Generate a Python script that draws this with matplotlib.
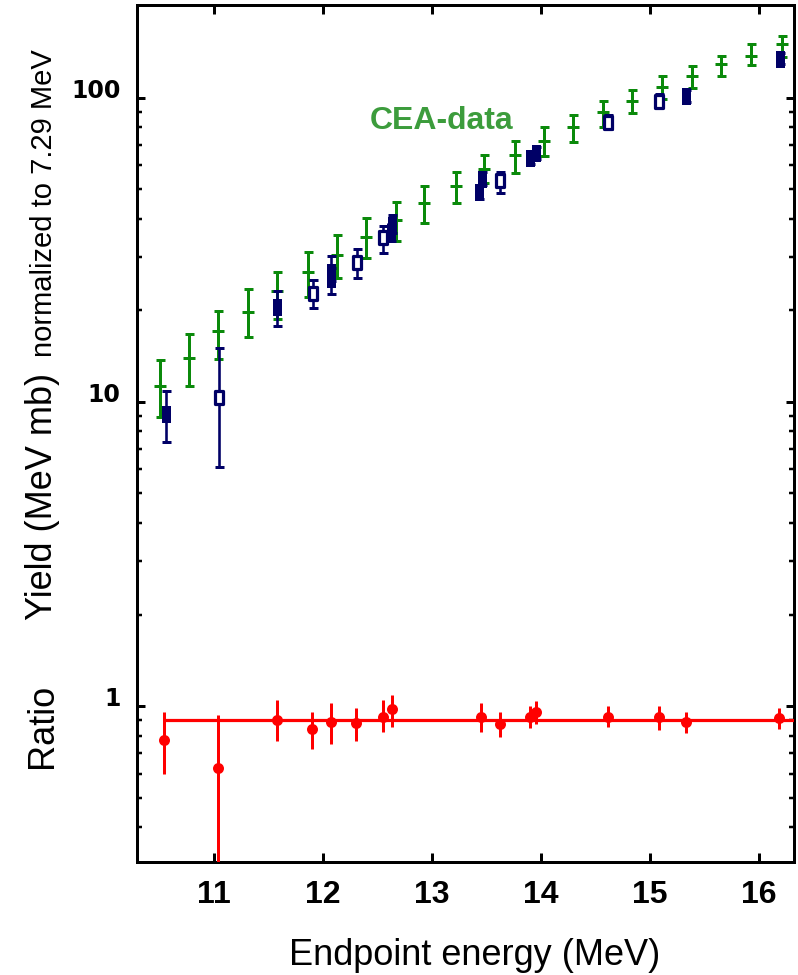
import matplotlib
matplotlib.use("Agg")
import matplotlib.pyplot as plt
import numpy as np
from matplotlib.path import Path
from matplotlib.ticker import FixedLocator, FixedFormatter, NullFormatter

# ---------------- data ----------------
# CEA reference yields (green)
cea_energy = [10.505, 10.768, 11.034, 11.315, 11.575, 11.865, 12.126, 12.394, 12.67, 12.927,
              13.22, 13.48, 13.764, 14.028, 14.296, 14.572, 14.835, 15.113, 15.388, 15.651,
              15.927, 16.208]
cea_yield = [11.3, 14.0, 17.1, 19.8, 23.2, 26.8, 30.4, 34.8, 39.7, 45.0,
             51.3, 58.2, 64.9, 72.2, 79.9, 89.7, 97.8, 108.4, 118.1, 129.1,
             137.4, 150.2]
cea_low = [8.95, 11.3, 13.8, 16.3, 18.8, 22.1, 25.6, 29.8, 33.9, 38.7,
           45.0, 52.5, 56.8, 64.6, 71.8, 80.5, 89.5, 99.5, 107.6, 118.1,
           128.4, 136.7]
cea_high = [13.7, 16.7, 19.9, 23.5, 26.7, 31.1, 35.4, 40.4, 45.3, 51.3,
            56.9, 64.9, 72.2, 80.3, 87.9, 98.0, 106.2, 118.1, 126.8, 137.4,
            150.5, 160.0]

# present yields, filled symbols
filled_energy = [10.56, 11.578, 12.07, 12.07, 12.62, 12.63, 13.43, 13.455, 13.896, 13.951, 15.33, 16.193]
filled_yield = [9.13, 20.5, 25.3, 26.7, 36.1, 38.1, 49.1, 54.1, 63.5, 65.9, 101.5, 134.3]
filled_low = [7.37, 17.8, 22.7, 25.0, 33.9, 36.0, 46.5, 51.5, 60.5, 63.0, 97.0, 129.0]
filled_high = [10.87, 23.2, 27.5, 30.1, 38.5, 41.2, 51.5, 57.0, 66.0, 69.0, 106.0, 140.0]

# present yields, open symbols
open_energy = [11.043, 11.905, 12.309, 12.553, 13.624, 14.612, 15.083]
open_yield = [10.41, 22.8, 28.8, 34.8, 53.7, 83.6, 97.8]
open_low = [6.1, 20.3, 25.6, 31.0, 48.8, 79.0, 93.0]
open_high = [15.1, 25.2, 31.8, 37.9, 57.0, 88.0, 103.0]

# ratio present / CEA
ratio_energy = [10.544, 11.04, 11.575, 11.902, 12.07, 12.303, 12.553, 12.63, 13.447, 13.624,
                13.90, 13.957, 14.612, 15.08, 15.328, 16.186]
ratio_value = [0.773, 0.624, 0.899, 0.838, 0.888, 0.881, 0.922, 0.975, 0.922, 0.873,
               0.922, 0.958, 0.922, 0.922, 0.888, 0.915]
ratio_low = [0.596, 0.2, 0.769, 0.722, 0.75, 0.769, 0.82, 0.855, 0.823, 0.789,
             0.85, 0.87, 0.851, 0.834, 0.814, 0.838]
ratio_high = [0.953, 0.934, 1.046, 0.953, 1.02, 0.983, 1.05, 1.087, 1.025, 0.958,
              1.0, 1.04, 1.002, 1.0, 0.958, 0.983]
ratio_fit = 0.90
ratio_fit_range = [10.56, 16.33]

x_ticks = [11, 12, 13, 14, 15, 16]
x_tick_labels = ["11", "12", "13", "14", "15", "16"]
y_ticks = [1, 10, 100]
y_tick_labels = ["1", "10", "100"]
y_minor = [m * 10.0 ** e for e in (-1, 0, 1) for m in range(2, 10)]

# ---------------- style ----------------
GREEN = "#0b8a0b"
LABEL_GREEN = "#3c9c3c"
NAVY = "#000066"
RED = "#ff0000"
PX = 0.72  # points per pixel at dpi 100


def rect_marker(w, h):
    verts = [(-w / 2, -h / 2), (w / 2, -h / 2), (w / 2, h / 2), (-w / 2, h / 2), (-w / 2, -h / 2)]
    codes = [Path.MOVETO, Path.LINETO, Path.LINETO, Path.LINETO, Path.CLOSEPOLY]
    return Path(verts, codes)


def asym(vals, lows, highs):
    v = np.asarray(vals)
    return [v - np.asarray(lows), np.asarray(highs) - v]


fig = plt.figure(figsize=(7.98, 9.75), dpi=100)
ax = fig.add_axes([137 / 798, 1 - 862 / 975, (794 - 137) / 798, (862 - 5) / 975])
ax.set_yscale("log")
ax.set_xlim(10.294, 16.321)
ax.set_ylim(0.307, 202)

# CEA data
ax.errorbar(cea_energy, cea_yield, yerr=asym(cea_yield, cea_low, cea_high),
            fmt="_", color=GREEN, ms=12 * PX, mew=3 * PX,
            elinewidth=3 * PX, capsize=4.5 * PX, capthick=3 * PX, zorder=2)

# present data: open symbols
ax.errorbar(open_energy, open_yield, yerr=asym(open_yield, open_low, open_high),
            fmt="none", ecolor=NAVY, elinewidth=2.6 * PX, capsize=4.5 * PX,
            capthick=3 * PX, zorder=3)
ax.plot(open_energy, open_yield, ls="none", marker=rect_marker(8, 13), ms=13 * PX,
        mfc="white", mec=NAVY, mew=3.2 * PX, zorder=4)

# present data: filled symbols
ax.errorbar(filled_energy, filled_yield, yerr=asym(filled_yield, filled_low, filled_high),
            fmt="none", ecolor=NAVY, elinewidth=2.6 * PX, capsize=4.5 * PX,
            capthick=3 * PX, zorder=3)
ax.plot(filled_energy, filled_yield, ls="none", marker=rect_marker(9, 17), ms=17 * PX,
        mfc=NAVY, mec=NAVY, mew=0, zorder=4)

# ratio and constant fit
ax.plot(ratio_fit_range, [ratio_fit, ratio_fit], color=RED, lw=3.2 * PX, zorder=5)
ax.errorbar(ratio_energy, ratio_value, yerr=asym(ratio_value, ratio_low, ratio_high),
            fmt="o", color=RED, ms=11 * PX, mew=0, elinewidth=3 * PX,
            capsize=4 * PX, capthick=3 * PX, zorder=6)

ax.text(12.431, 79.1, "CEA-data", color=LABEL_GREEN, fontsize=23,
        fontweight="bold", family="Liberation Sans", ha="left", va="baseline")

# ---------------- axes ----------------
for sp in ax.spines.values():
    sp.set_linewidth(3 * PX)

ax.xaxis.set_major_locator(FixedLocator(x_ticks))
ax.xaxis.set_major_formatter(FixedFormatter(x_tick_labels))
ax.yaxis.set_major_locator(FixedLocator(y_ticks))
ax.yaxis.set_major_formatter(FixedFormatter(y_tick_labels))
ax.yaxis.set_minor_locator(FixedLocator(y_minor))
ax.yaxis.set_minor_formatter(NullFormatter())
ax.xaxis.set_minor_locator(FixedLocator([]))

ax.tick_params(axis="x", which="major", direction="in", top=True, bottom=True,
               length=9 * PX, width=3 * PX, pad=13)
ax.tick_params(axis="y", which="major", direction="in", left=True, right=True,
               length=8 * PX, width=3 * PX, pad=12)
ax.tick_params(axis="y", which="minor", direction="in", left=True, right=True,
               length=5 * PX, width=2.5 * PX)

for lab in ax.get_xticklabels():
    lab.set_fontfamily("Liberation Sans")
    lab.set_fontweight("bold")
    lab.set_fontsize(23)
for lab in ax.get_yticklabels():
    lab.set_fontfamily("DejaVu Sans")
    lab.set_fontweight("bold")
    lab.set_fontsize(17)
    lab.set_va("baseline")

# axis titles
fig.text(475 / 798, 1 - 965 / 975, "Endpoint energy (MeV)", fontsize=26,
         family="Liberation Sans", ha="center", va="baseline")
fig.text(52 / 798, 1 - 620 / 975, "Yield (MeV mb)", fontsize=26, family="Liberation Sans",
         rotation=90, rotation_mode="anchor", ha="left", va="baseline")
fig.text(52 / 798, 1 - 357 / 975, "normalized to 7.29 MeV", fontsize=21,
         family="Liberation Sans", rotation=90, rotation_mode="anchor",
         ha="left", va="baseline")
fig.text(52 / 798, 1 - 768 / 975, "Ratio", fontsize=26, family="Liberation Sans",
         rotation=90, rotation_mode="anchor", ha="left", va="baseline")

fig.savefig("out.png", dpi=100)
